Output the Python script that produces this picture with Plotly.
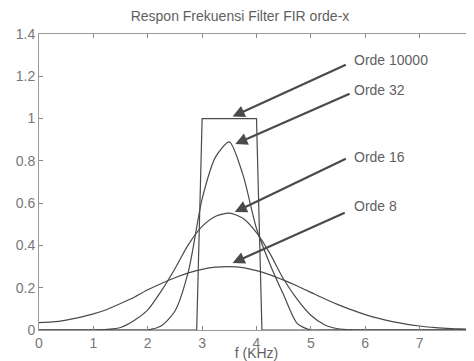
import plotly.graph_objects as go

# Frequency grid (kHz)
freq = [0.0, 0.25, 0.5, 0.75, 1.0, 1.25, 1.5, 1.75, 2.0, 2.25, 2.5, 2.75, 3.0, 3.25,
        3.5, 3.75, 4.0, 4.25, 4.5, 4.75, 5.0, 5.25, 5.5, 5.75, 6.0, 6.25, 6.5, 6.75,
        7.0, 7.25, 7.5, 7.75, 8.0]

orde8 = [0.035, 0.038, 0.047, 0.06, 0.076, 0.097, 0.125, 0.155, 0.19, 0.22, 0.247, 0.27,
         0.287, 0.297, 0.300, 0.295, 0.281, 0.261, 0.236, 0.208, 0.178, 0.148, 0.12,
         0.095, 0.073, 0.055, 0.04, 0.028, 0.019, 0.012, 0.008, 0.005, 0.004]

orde16 = [0.0, 0.0, 0.0, 0.0, 0.0, 0.003, 0.012, 0.045, 0.095, 0.185, 0.29, 0.405,
          0.49, 0.538, 0.553, 0.528, 0.46, 0.36, 0.24, 0.145, 0.07, 0.025, 0.006,
          0.001, 0.0, 0.0, 0.0, 0.0, 0.0, 0.0, 0.0, 0.0, 0.0]

orde32 = [0.0, 0.0, 0.0, 0.0, 0.0, 0.0, 0.0, 0.0, 0.0, 0.02, 0.09, 0.28, 0.62, 0.82,
          0.89, 0.735, 0.48, 0.31, 0.165, 0.03, 0.0, 0.0, 0.0, 0.0, 0.0, 0.0, 0.0,
          0.0, 0.0, 0.0, 0.0, 0.0, 0.0]

freq10000 = [0.0, 2.9, 3.0, 4.0, 4.1, 8.0]
orde10000 = [0.0, 0.0, 1.0, 1.0, 0.0, 0.0]

labels = ["Orde 10000", "Orde 32", "Orde 16", "Orde 8"]
label_pos = [(5.76, 1.277), (5.76, 1.135), (5.76, 0.818), (5.76, 0.585)]
arrow_tail = [(5.67, 1.258), (5.74, 1.12), (5.67, 0.813), (5.65, 0.558)]
arrow_head = [(3.56, 1.01), (3.61, 0.88), (3.6, 0.558), (3.56, 0.317)]

line_color = "#4a4a4a"
text_color = "#5f5f5f"
font_family = "Liberation Sans, Arial, sans-serif"

fig = go.Figure()
fig.add_trace(go.Scatter(x=freq10000, y=orde10000, mode="lines",
                         line=dict(color=line_color, width=1.2), name="Orde 10000"))
for ys, nm in [(orde32, "Orde 32"), (orde16, "Orde 16"), (orde8, "Orde 8")]:
    fig.add_trace(go.Scatter(x=freq, y=ys, mode="lines", name=nm,
                             line=dict(color=line_color, width=1.2, shape="spline", smoothing=0.7)))

annotations = []
for (tx, ty), (hx, hy) in zip(arrow_tail, arrow_head):
    annotations.append(dict(x=hx, y=hy, ax=tx, ay=ty, xref="x", yref="y", axref="x", ayref="y",
                            text="", showarrow=True, arrowhead=2, arrowsize=1.1, arrowwidth=2.2,
                            arrowcolor="#4a4a4a"))
for lab, (lx, ly) in zip(labels, label_pos):
    annotations.append(dict(x=lx, y=ly, xref="x", yref="y", text=lab, showarrow=False,
                            xanchor="left", yanchor="middle",
                            font=dict(size=14, color=text_color, family=font_family)))

# The page body adds an 8px offset; size and margins compensate for it.
W, H = 466, 353
fig.update_layout(
    width=W, height=H,
    margin=dict(l=31, r=0, t=26, b=31, autoexpand=False),
    paper_bgcolor="white", plot_bgcolor="white",
    showlegend=False,
    title=dict(text="Respon Frekuensi Filter FIR orde-x", x=(240 - 8) / W, xanchor="center",
               y=1 - 8 / H, yanchor="middle",
               font=dict(size=14, color=text_color, family=font_family)),
    font=dict(family=font_family, size=14, color=text_color),
    annotations=annotations,
)
fig.update_xaxes(range=[0, 8], tickvals=[0, 1, 2, 3, 4, 5, 6, 7, 8],
                 ticks="inside", ticklen=4, tickcolor="#888888",
                 showline=True, linecolor="#999999", linewidth=1, mirror="ticks",
                 showgrid=False, zeroline=False, automargin=False,
                 title=dict(text="f (KHz)", standoff=0, font=dict(size=14, color=text_color)),
                 tickfont=dict(size=14, color="#777777"))
fig.update_yaxes(range=[0, 1.4], tickvals=[0, 0.2, 0.4, 0.6, 0.8, 1.0, 1.2, 1.4],
                 ticktext=["0", "0.2", "0.4", "0.6", "0.8", "1", "1.2", "1.4"],
                 ticks="inside", ticklen=4, tickcolor="#888888",
                 showline=True, linecolor="#999999", linewidth=1, mirror="ticks",
                 showgrid=False, zeroline=False, automargin=False,
                 tickfont=dict(size=14, color="#777777"))

fig.write_html("out.html")
